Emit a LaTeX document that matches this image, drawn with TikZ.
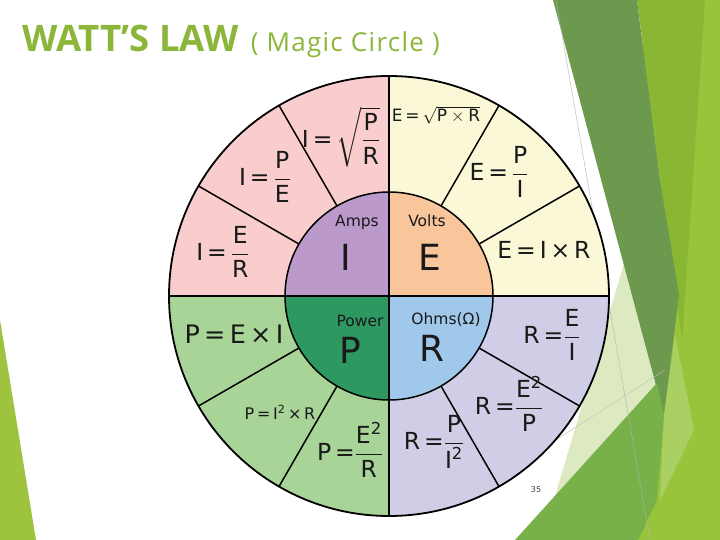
\documentclass[tikz,border=0pt]{standalone}
\usepackage{amsmath}
\usepackage{fontspec}
\setmainfont{DejaVu Sans}
\newfontfamily\titlefont{Open Sans}
\newfontfamily\subtitlefont[LetterSpace=5]{Open Sans}
\usetikzlibrary{calc}
\definecolor{pinkq}{RGB}{249,205,205}
\definecolor{yelq}{RGB}{251,248,216}
\definecolor{grnq}{RGB}{168,212,152}
\definecolor{lavq}{RGB}{208,206,230}
\definecolor{ampsc}{RGB}{188,153,203}
\definecolor{voltc}{RGB}{249,197,155}
\definecolor{powc}{RGB}{46,152,98}
\definecolor{ohmc}{RGB}{160,200,235}
\definecolor{titleg}{RGB}{140,182,58}
\definecolor{darkg}{RGB}{108,153,78}
\definecolor{midyg}{RGB}{137,183,52}
\definecolor{lightyg}{RGB}{152,196,60}
\definecolor{bandg}{RGB}{170,208,100}
\definecolor{paleg}{RGB}{221,234,193}
\definecolor{medg}{RGB}{120,176,74}
\definecolor{leftg}{RGB}{158,195,62}
\newcommand{\fr}[2]{$\dfrac{\text{#1}}{\text{#2}}$}
\tikzset{
  every node/.style={inner sep=0pt, text=black!90},
  ln/.style={line width=1.5pt, black},
  fml/.style={font=\fontsize{23.5}{27}\selectfont},
  fsm/.style={font=\fontsize{16}{19}\selectfont},
  qlab/.style={font=\fontsize{15.5}{18}\selectfont},
  qbig/.style={font=\fontsize{36}{40}\selectfont},
}
\begin{document}
\begin{tikzpicture}[x=1pt,y=-1pt]
\useasboundingbox (0,0) rectangle (720,540);
\fill[white] (0,0) rectangle (720,540);
% background decoration
\fill[leftg] (0,320) -- (36,540) -- (0,540) -- cycle;
\fill[lightyg] (640,0) -- (720,0) -- (720,540) -- (630,540) -- (664,400) -- cycle;
\fill[midyg] (637,0) -- (705,0) -- (682,340) -- cycle;
\fill[paleg] (548,520) -- (628,250) -- (665,380) -- (600,470) -- cycle;
\fill[darkg] (553,0) -- (637,0) -- (660,180) -- (679,295) -- (664,415) -- cycle;
\fill[bandg] (675,335) -- (694,430) -- (660,500) -- (664,415) -- cycle;
\fill[medg] (515,540) -- (657,383) -- (664,415) -- (657,500) -- (638,540) -- cycle;
\draw[gray!60, line width=0.4pt] (556,0) -- (650,540);
\draw[gray!50, line width=0.4pt] (545,447) -- (665,370);
% title
\node[anchor=base west, text=titleg] (title) at (22,52)
  {{\titlefont\fontsize{36.5}{40}\selectfont\bfseries WATT’S LAW}\hspace{12pt}{\subtitlefont\fontsize{26}{29}\selectfont ( Magic Circle )}};
% circle
\coordinate (c) at (389,296);
\def\R{220}
\def\r{104}
\fill[pinkq] (c) -- ++(180:\R) arc[start angle=180,end angle=270,radius=\R] -- cycle;
\fill[yelq] (c) -- ++(270:\R) arc[start angle=270,end angle=360,radius=\R] -- cycle;
\fill[lavq] (c) -- ++(0:\R) arc[start angle=0,end angle=90,radius=\R] -- cycle;
\fill[grnq] (c) -- ++(90:\R) arc[start angle=90,end angle=180,radius=\R] -- cycle;
\fill[ampsc] (c) -- ++(180:\r) arc[start angle=180,end angle=270,radius=\r] -- cycle;
\fill[voltc] (c) -- ++(270:\r) arc[start angle=270,end angle=360,radius=\r] -- cycle;
\fill[ohmc] (c) -- ++(0:\r) arc[start angle=0,end angle=90,radius=\r] -- cycle;
\fill[powc] (c) -- ++(90:\r) arc[start angle=90,end angle=180,radius=\r] -- cycle;
\draw[ln] (c) circle[radius=\r];
\draw[ln] ($(c)+(180:\R)$) -- ($(c)+(0:\R)$);
\draw[ln] ($(c)+(270:\R)$) -- ($(c)+(90:\R)$);
\foreach \a in {30,60,120,150,210,240,300,330}
  \draw[ln] ($(c)+(\a:\r)$) -- ($(c)+(\a:\R)$);
\draw[line width=1.8pt] (c) circle[radius=\R];
% inner labels
\node[qlab] (amps) at (357,222) {Amps};
\node[qbig] (ampsI) at (346,257) {I};
\node[qlab] (volts) at (427,221) {Volts};
\node[qbig] (voltsE) at (430,257) {E};
\node[qlab] (power) at (360,321) {Power};
\node[qbig] (powerP) at (350,350) {P};
\node[qlab] (ohms) at (446,320) {Ohms(Ω)};
\node[qbig] (ohmsR) at (432,348) {R};
% formulas: current
\node[fml] (n1) at (223,252) {I\,=\,\fr{E}{R}};
\node[fml] (n2) at (265,177) {I\,=\,\fr{P}{E}};
\node[fml] (n3) at (341,137) {I\,=\,$\sqrt{\dfrac{\text{P}}{\text{R}}}$};
% voltage
\node[font=\fontsize{17}{20}\selectfont] (n4) at (436,115) {E\,=\,$\sqrt{\text{P}\times\text{R}}$};
\node[fml] (n5) at (499,172) {E\,=\,\fr{P}{I}};
\node[fml] (n6) at (544,250) {E\,=\,I\,×\,R};
% power
\node[font=\fontsize{25.5}{29}\selectfont] (n7) at (234,334) {P\,=\,E\,×\,I};
\node[fsm] (n8) at (280,412) {P\,=\,I\textsuperscript{2}\,×\,R};
\node[fml] (n9) at (350,450) {P\,=\fr{E\textsuperscript{2}}{R}};
% resistance
\node[fml] (n10) at (552,335) {R\,=\fr{E}{I}};
\node[fml] (n11) at (509,404) {R\,=\fr{E\textsuperscript{2}}{P}};
\node[fml] (n12) at (434,442) {R\,=\fr{P}{I\textsuperscript{2}}};
% page number
\node[font=\fontsize{8}{9}\selectfont, text=black!75] (pg) at (536,490) {35};
\end{tikzpicture}
\end{document}
